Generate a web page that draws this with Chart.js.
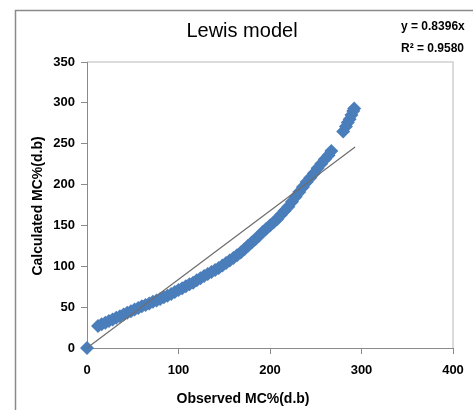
<!DOCTYPE html>
<html><head><meta charset="utf-8">
<script src="https://cdn.jsdelivr.net/npm/chart.js@4"></script>
<style>html,body{margin:0;padding:0;background:#fff;}canvas{display:block;}</style>
</head><body>
<canvas id="c" width="473" height="410"></canvas>
<script>
const observed = [0,12,16,20,24,28,32,36,40,44,48,52,56,60,64,68,72,76,80,84,88,92,96,100,104,108,112,116,120,124,128,132,136,140,144,148,152,156,160,164,168,172,176,180,184,188,192,196,200,204,208,212,216,220,224,228,232,236,240,244,248,252,256,260,264,267,280,283,285,287,289,291,292];
const calculated = [0,27,29,31,33,35,37,39,41,43,45,47,49,51,52.5,54.5,56.5,58,60,62,64,66,68.5,71,73,75.5,78,80,83,85.5,88,90.5,93,95.5,98,101,104,107,110,113.5,117,121,125,129,133,137.5,142,146,150,154,158,163,168,173,179,185,191,197,203,208.5,214,220,225.5,231,236,241,265,271,276,280,285,290,293];
const trendX = [0, 293];
const trendY = [0, 246];
const xTicks = [0,100,200,300,400];
const yTicks = [0,50,100,150,200,250,300,350];
const titleText = 'Lewis model';
const eqLines = ['y = 0.8396x', 'R\u00B2 = 0.9580'];
const xTitle = 'Observed MC%(d.b)';
const yTitle = 'Calculated MC%(d.b)';

const FONT = '"Liberation Sans",Arial,sans-serif';

const deco = {
  id:'deco',
  beforeDraw(chart){
    const ctx = chart.ctx;
    ctx.save();
    ctx.fillStyle='#fff'; ctx.fillRect(0,0,chart.width,chart.height);
    ctx.strokeStyle='#8a8a8a'; ctx.lineWidth=1.5;
    ctx.beginPath(); ctx.moveTo(15.5,410); ctx.lineTo(15.5,10.5); ctx.lineTo(473,10.5); ctx.stroke();
    const a = chart.chartArea;
    ctx.strokeStyle='#d0d0d0'; ctx.lineWidth=1.5;
    ctx.beginPath(); ctx.moveTo(a.left,a.top); ctx.lineTo(a.right,a.top); ctx.lineTo(a.right,a.bottom); ctx.stroke();
    ctx.restore();
  },
  afterDraw(chart){
    const ctx = chart.ctx;
    ctx.save();
    ctx.fillStyle='#000';
    ctx.textAlign='center'; ctx.textBaseline='middle';
    ctx.font='20px '+FONT;
    ctx.fillText(titleText, 242, 31);
    ctx.font='bold 12px '+FONT;
    ctx.textAlign='left';
    ctx.fillText(eqLines[0], 401, 27);
    ctx.fillText(eqLines[1], 401, 49);
    ctx.textAlign='center';
    ctx.font='bold 14px '+FONT;
    ctx.fillText(xTitle, 243, 399);
    ctx.translate(38, 206); ctx.rotate(-Math.PI/2);
    ctx.fillText(yTitle, 0, 0);
    ctx.restore();
  }
};

new Chart(document.getElementById('c'), {
  data:{
    datasets:[
      {type:'line', data:trendX.map((x,i)=>({x, y:trendY[i]})), borderColor:'#6e6e6e', borderWidth:1.2, pointRadius:0, fill:false, order:0, clip:false},
      {type:'scatter', data:observed.map((x,i)=>({x, y:calculated[i]})), pointStyle:'rectRot', pointRadius:7, backgroundColor:'#4a7ebb', borderColor:'#4a7ebb', borderWidth:0, order:1, clip:false}
    ]
  },
  options:{
    responsive:false, animation:false,
    layout:{padding:{top:62,right:20,left:0,bottom:0}},
    plugins:{legend:{display:false}, title:{display:false}, tooltip:{enabled:false}},
    scales:{
      x:{type:'linear', min:0, max:400,
        afterBuildTicks(s){ s.ticks = xTicks.map(v=>({value:v})); },
        afterFit(s){ s.height = 62; },
        grid:{drawOnChartArea:false, drawTicks:true, tickLength:6, color:'#8a8a8a'},
        border:{color:'#8a8a8a', width:1},
        ticks:{padding:9, color:'#000', font:{family:FONT, size:13, weight:'bold'}, maxRotation:0}
      },
      y:{type:'linear', min:0, max:350,
        afterBuildTicks(s){ s.ticks = yTicks.map(v=>({value:v})); },
        afterFit(s){ s.width = 87; },
        grid:{drawOnChartArea:false, drawTicks:true, tickLength:6, color:'#8a8a8a'},
        border:{color:'#8a8a8a', width:1},
        ticks:{padding:6, color:'#000', font:{family:FONT, size:13, weight:'bold'}}
      }
    }
  },
  plugins:[deco]
});
</script>
</body></html>
